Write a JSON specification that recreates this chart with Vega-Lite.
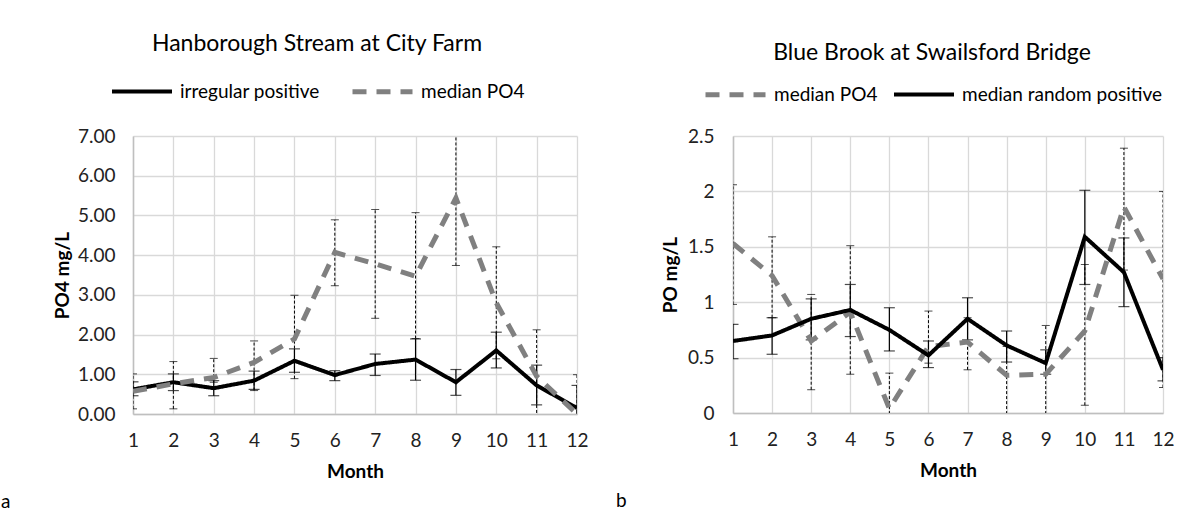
{
  "$schema": "https://vega.github.io/schema/vega-lite/v6.json",
  "background": "white",
  "padding": {"left": 1, "top": 33, "right": 0, "bottom": 0},
  "autosize": {"type": "pad"},
  "config": {
    "font": "Lato",
    "view": {"stroke": null},
    "title": {"fontSize": 19, "fontWeight": "normal", "color": "#000000"},
    "axis": {
      "labelFontSize": 19, "labelColor": "#222222", "labelFont": "Lato",
      "titleFontSize": 19, "titleFontWeight": "bold", "titleColor": "#000000",
      "domainColor": "#bfbfbf", "domainWidth": 1.5, "gridColor": "#d9d9d9", "gridWidth": 1.3,
      "ticks": false
    },
    "legend": {"labelFontSize": 19, "labelColor": "#000000", "labelFont": "Lato", "labelLimit": 400,
               "titleFontSize": 23, "titleFontWeight": "normal", "titleColor": "#000000", "titleFont": "Lato", "titleLimit": 700,
               "titleOrient": "top", "titleAnchor": "middle"}
  },
  "datasets": {
    "po4": [
      {"panel": "a", "series": "irregular positive", "month": 1, "value": 0.62, "lo": 0.46, "hi": 0.81},
      {"panel": "a", "series": "irregular positive", "month": 2, "value": 0.80, "lo": 0.59, "hi": 1.01},
      {"panel": "a", "series": "irregular positive", "month": 3, "value": 0.65, "lo": 0.46, "hi": 0.84},
      {"panel": "a", "series": "irregular positive", "month": 4, "value": 0.84, "lo": 0.62, "hi": 1.08},
      {"panel": "a", "series": "irregular positive", "month": 5, "value": 1.34, "lo": 1.05, "hi": 1.64},
      {"panel": "a", "series": "irregular positive", "month": 6, "value": 0.98, "lo": 0.84, "hi": 1.09},
      {"panel": "a", "series": "irregular positive", "month": 7, "value": 1.26, "lo": 0.97, "hi": 1.51},
      {"panel": "a", "series": "irregular positive", "month": 8, "value": 1.37, "lo": 0.85, "hi": 1.89},
      {"panel": "a", "series": "irregular positive", "month": 9, "value": 0.80, "lo": 0.47, "hi": 1.12},
      {"panel": "a", "series": "irregular positive", "month": 10, "value": 1.60, "lo": 1.16, "hi": 2.06},
      {"panel": "a", "series": "irregular positive", "month": 11, "value": 0.72, "lo": 0.23, "hi": 1.23},
      {"panel": "a", "series": "irregular positive", "month": 12, "value": 0.15, "lo": -0.1, "hi": 0.72},
      {"panel": "a", "series": "median PO4", "month": 1, "value": 0.57, "lo": 0.13, "hi": 1.01},
      {"panel": "a", "series": "median PO4", "month": 2, "value": 0.76, "lo": 0.13, "hi": 1.32},
      {"panel": "a", "series": "median PO4", "month": 3, "value": 0.92, "lo": 0.80, "hi": 1.40},
      {"panel": "a", "series": "median PO4", "month": 4, "value": 1.30, "lo": 0.59, "hi": 1.84},
      {"panel": "a", "series": "median PO4", "month": 5, "value": 1.89, "lo": 0.89, "hi": 2.99},
      {"panel": "a", "series": "median PO4", "month": 6, "value": 4.07, "lo": 3.23, "hi": 4.89},
      {"panel": "a", "series": "median PO4", "month": 7, "value": 3.78, "lo": 2.41, "hi": 5.15},
      {"panel": "a", "series": "median PO4", "month": 8, "value": 3.47, "lo": 1.90, "hi": 5.07},
      {"panel": "a", "series": "median PO4", "month": 9, "value": 5.44, "lo": 3.74, "hi": 7.5},
      {"panel": "a", "series": "median PO4", "month": 10, "value": 2.80, "lo": 1.39, "hi": 4.21},
      {"panel": "a", "series": "median PO4", "month": 11, "value": 0.95, "lo": -0.1, "hi": 2.12},
      {"panel": "a", "series": "median PO4", "month": 12, "value": 0.00, "lo": -0.1, "hi": 0.99},
      {"panel": "b", "series": "median PO4", "month": 1, "value": 1.53, "lo": 0.98, "hi": 2.06},
      {"panel": "b", "series": "median PO4", "month": 2, "value": 1.24, "lo": 0.86, "hi": 1.59},
      {"panel": "b", "series": "median PO4", "month": 3, "value": 0.65, "lo": 0.21, "hi": 1.07},
      {"panel": "b", "series": "median PO4", "month": 4, "value": 0.91, "lo": 0.35, "hi": 1.51},
      {"panel": "b", "series": "median PO4", "month": 5, "value": 0.04, "lo": -0.1, "hi": 0.36},
      {"panel": "b", "series": "median PO4", "month": 6, "value": 0.60, "lo": 0.45, "hi": 0.92},
      {"panel": "b", "series": "median PO4", "month": 7, "value": 0.64, "lo": 0.39, "hi": 0.86},
      {"panel": "b", "series": "median PO4", "month": 8, "value": 0.34, "lo": -0.1, "hi": 0.60},
      {"panel": "b", "series": "median PO4", "month": 9, "value": 0.35, "lo": -0.1, "hi": 0.79},
      {"panel": "b", "series": "median PO4", "month": 10, "value": 0.74, "lo": 0.07, "hi": 1.34},
      {"panel": "b", "series": "median PO4", "month": 11, "value": 1.86, "lo": 1.29, "hi": 2.39},
      {"panel": "b", "series": "median PO4", "month": 12, "value": 1.21, "lo": 0.23, "hi": 2.00},
      {"panel": "b", "series": "median random positive", "month": 1, "value": 0.65, "lo": 0.49, "hi": 0.80},
      {"panel": "b", "series": "median random positive", "month": 2, "value": 0.70, "lo": 0.53, "hi": 0.86},
      {"panel": "b", "series": "median random positive", "month": 3, "value": 0.85, "lo": 0.66, "hi": 1.03},
      {"panel": "b", "series": "median random positive", "month": 4, "value": 0.93, "lo": 0.69, "hi": 1.16},
      {"panel": "b", "series": "median random positive", "month": 5, "value": 0.75, "lo": 0.56, "hi": 0.95},
      {"panel": "b", "series": "median random positive", "month": 6, "value": 0.52, "lo": 0.41, "hi": 0.65},
      {"panel": "b", "series": "median random positive", "month": 7, "value": 0.85, "lo": 0.66, "hi": 1.04},
      {"panel": "b", "series": "median random positive", "month": 8, "value": 0.61, "lo": 0.46, "hi": 0.74},
      {"panel": "b", "series": "median random positive", "month": 9, "value": 0.45, "lo": 0.35, "hi": 0.57},
      {"panel": "b", "series": "median random positive", "month": 10, "value": 1.59, "lo": 1.16, "hi": 2.01},
      {"panel": "b", "series": "median random positive", "month": 11, "value": 1.27, "lo": 0.96, "hi": 1.58},
      {"panel": "b", "series": "median random positive", "month": 12, "value": 0.39, "lo": 0.29, "hi": 0.50}
    ]
  },
  "spacing": 156,
  "bounds": "flush",
  "resolve": {"scale": {"x": "independent", "y": "independent", "color": "independent", "strokeDash": "independent", "strokeWidth": "independent"}},
  "hconcat": [
    {
      "width": 444,
      "height": 278,
      "title": {"text": "a", "orient": "bottom", "anchor": "start", "frame": "group", "dx": -132, "offset": 12, "fontSize": 19},
      "data": {"name": "po4"},
      "transform": [{"filter": "datum.panel == 'a'"}],
      "encoding": {
        "x": {"field": "month", "type": "quantitative", "title": "Month",
              "scale": {"domain": [1, 12], "nice": false, "zero": false},
              "axis": {"values": [1,2,3,4,5,6,7,8,9,10,11,12], "tickCount": 20, "format": "d", "labelPadding": 17, "titlePadding": 12, "labelFlush": false}}
      },
      "layer": [
        {
          "transform": [{"filter": "datum.series == 'median PO4'"}],
          "mark": {"type": "rule", "color": "#000000", "strokeWidth": 1, "strokeDash": [3, 2], "clip": true},
          "encoding": {
            "y": {"field": "lo", "type": "quantitative", "title": "PO4 mg/L", "scale": {"domain": [0, 7], "nice": false},
                  "axis": {"values": [0,1,2,3,4,5,6,7], "tickCount": 20, "format": ".2f", "labelPadding": 18, "titlePadding": 5}},
            "y2": {"field": "hi"}
          }
        },
        {
          "transform": [{"filter": "datum.series == 'median PO4'"}, {"fold": ["lo", "hi"], "as": ["end", "cap"]}],
          "mark": {"type": "tick", "orient": "horizontal", "color": "#000000", "size": 8, "thickness": 1, "clip": true},
          "encoding": {
            "y": {"field": "cap", "type": "quantitative", "title": "PO4 mg/L", "scale": {"domain": [0, 7], "nice": false},
                  "axis": {"values": [0,1,2,3,4,5,6,7], "tickCount": 20, "format": ".2f", "labelPadding": 18, "titlePadding": 5}}
          }
        },
        {
          "transform": [{"filter": "datum.series == 'irregular positive'"}],
          "mark": {"type": "rule", "color": "#000000", "strokeWidth": 1.2, "clip": true},
          "encoding": {
            "y": {"field": "lo", "type": "quantitative", "title": "PO4 mg/L", "scale": {"domain": [0, 7], "nice": false},
                  "axis": {"values": [0,1,2,3,4,5,6,7], "tickCount": 20, "format": ".2f", "labelPadding": 18, "titlePadding": 5}},
            "y2": {"field": "hi"}
          }
        },
        {
          "transform": [{"filter": "datum.series == 'irregular positive'"}, {"fold": ["lo", "hi"], "as": ["end", "cap"]}],
          "mark": {"type": "tick", "orient": "horizontal", "color": "#000000", "size": 11, "thickness": 1.2, "clip": true},
          "encoding": {
            "y": {"field": "cap", "type": "quantitative", "title": "PO4 mg/L", "scale": {"domain": [0, 7], "nice": false},
                  "axis": {"values": [0,1,2,3,4,5,6,7], "tickCount": 20, "format": ".2f", "labelPadding": 18, "titlePadding": 5}}
          }
        },
        {
          "mark": {"type": "line", "clip": true},
          "encoding": {
            "y": {"field": "value", "type": "quantitative", "title": "PO4 mg/L", "scale": {"domain": [0, 7], "nice": false},
                  "axis": {"values": [0,1,2,3,4,5,6,7], "tickCount": 20, "format": ".2f", "labelPadding": 18, "titlePadding": 5}},
            "color": {"field": "series", "type": "nominal",
                      "scale": {"domain": ["irregular positive", "median PO4"], "range": ["#000000", "#808080"]},
                      "legend": {"title": "Hanborough Stream at City Farm", "titlePadding": 3, "orient": "none", "direction": "horizontal", "legendX": -23, "legendY": -103,
                                 "symbolType": "stroke", "symbolSize": 3600, "labelOffset": 6, "columnPadding": 22, "padding": 0}},
            "strokeDash": {"field": "series", "type": "nominal",
                           "scale": {"domain": ["irregular positive", "median PO4"], "range": [[1, 0], [14, 10]]},
                           "legend": {"title": "Hanborough Stream at City Farm", "titlePadding": 3, "orient": "none", "direction": "horizontal", "legendX": -23, "legendY": -103,
                                      "symbolType": "stroke", "symbolSize": 3600, "labelOffset": 6, "columnPadding": 22, "padding": 0}},
            "strokeWidth": {"field": "series", "type": "nominal",
                            "scale": {"domain": ["irregular positive", "median PO4"], "range": [4, 5]},
                            "legend": {"title": "Hanborough Stream at City Farm", "titlePadding": 3, "orient": "none", "direction": "horizontal", "legendX": -23, "legendY": -103,
                                       "symbolType": "stroke", "symbolSize": 3600, "labelOffset": 6, "columnPadding": 22, "padding": 0}}
          }
        }
      ]
    },
    {
      "width": 430,
      "height": 277,
      "title": {"text": "b", "orient": "bottom", "anchor": "start", "frame": "group", "dx": -117, "offset": 12, "fontSize": 19},
      "data": {"name": "po4"},
      "transform": [{"filter": "datum.panel == 'b'"}],
      "encoding": {
        "x": {"field": "month", "type": "quantitative", "title": "Month",
              "scale": {"domain": [1, 12], "nice": false, "zero": false},
              "axis": {"values": [1,2,3,4,5,6,7,8,9,10,11,12], "tickCount": 20, "format": "d", "labelPadding": 17, "titlePadding": 12, "labelFlush": false}}
      },
      "layer": [
        {
          "transform": [{"filter": "datum.series == 'median PO4'"}],
          "mark": {"type": "rule", "color": "#000000", "strokeWidth": 1, "strokeDash": [3, 2], "clip": true},
          "encoding": {
            "y": {"field": "lo", "type": "quantitative", "title": "PO mg/L", "scale": {"domain": [0, 2.5], "nice": false},
                  "axis": {"values": [0, 0.5, 1, 1.5, 2, 2.5], "tickCount": 20, "format": "~g", "labelPadding": 19, "titlePadding": 7}},
            "y2": {"field": "hi"}
          }
        },
        {
          "transform": [{"filter": "datum.series == 'median PO4'"}, {"fold": ["lo", "hi"], "as": ["end", "cap"]}],
          "mark": {"type": "tick", "orient": "horizontal", "color": "#000000", "size": 8, "thickness": 1, "clip": true},
          "encoding": {
            "y": {"field": "cap", "type": "quantitative", "title": "PO mg/L", "scale": {"domain": [0, 2.5], "nice": false},
                  "axis": {"values": [0, 0.5, 1, 1.5, 2, 2.5], "tickCount": 20, "format": "~g", "labelPadding": 19, "titlePadding": 7}}
          }
        },
        {
          "transform": [{"filter": "datum.series == 'median random positive'"}],
          "mark": {"type": "rule", "color": "#000000", "strokeWidth": 1.2, "clip": true},
          "encoding": {
            "y": {"field": "lo", "type": "quantitative", "title": "PO mg/L", "scale": {"domain": [0, 2.5], "nice": false},
                  "axis": {"values": [0, 0.5, 1, 1.5, 2, 2.5], "tickCount": 20, "format": "~g", "labelPadding": 19, "titlePadding": 7}},
            "y2": {"field": "hi"}
          }
        },
        {
          "transform": [{"filter": "datum.series == 'median random positive'"}, {"fold": ["lo", "hi"], "as": ["end", "cap"]}],
          "mark": {"type": "tick", "orient": "horizontal", "color": "#000000", "size": 11, "thickness": 1.2, "clip": true},
          "encoding": {
            "y": {"field": "cap", "type": "quantitative", "title": "PO mg/L", "scale": {"domain": [0, 2.5], "nice": false},
                  "axis": {"values": [0, 0.5, 1, 1.5, 2, 2.5], "tickCount": 20, "format": "~g", "labelPadding": 19, "titlePadding": 7}}
          }
        },
        {
          "mark": {"type": "line", "clip": true},
          "encoding": {
            "y": {"field": "value", "type": "quantitative", "title": "PO mg/L", "scale": {"domain": [0, 2.5], "nice": false},
                  "axis": {"values": [0, 0.5, 1, 1.5, 2, 2.5], "tickCount": 20, "format": "~g", "labelPadding": 19, "titlePadding": 7}},
            "color": {"field": "series", "type": "nominal",
                      "scale": {"domain": ["median PO4", "median random positive"], "range": ["#808080", "#000000"]},
                      "legend": {"title": "Blue Brook at Swailsford Bridge", "titlePadding": -3, "orient": "none", "direction": "horizontal", "legendX": -30, "legendY": -94,
                                 "symbolType": "stroke", "symbolSize": 3600, "labelOffset": 6, "columnPadding": 8, "padding": 0}},
            "strokeDash": {"field": "series", "type": "nominal",
                           "scale": {"domain": ["median PO4", "median random positive"], "range": [[14, 10], [1, 0]]},
                           "legend": {"title": "Blue Brook at Swailsford Bridge", "titlePadding": -3, "orient": "none", "direction": "horizontal", "legendX": -30, "legendY": -94,
                                      "symbolType": "stroke", "symbolSize": 3600, "labelOffset": 6, "columnPadding": 8, "padding": 0}},
            "strokeWidth": {"field": "series", "type": "nominal",
                            "scale": {"domain": ["median PO4", "median random positive"], "range": [5, 4]},
                            "legend": {"title": "Blue Brook at Swailsford Bridge", "titlePadding": -3, "orient": "none", "direction": "horizontal", "legendX": -30, "legendY": -94,
                                       "symbolType": "stroke", "symbolSize": 3600, "labelOffset": 6, "columnPadding": 8, "padding": 0}}
          }
        }
      ]
    }
  ]
}
